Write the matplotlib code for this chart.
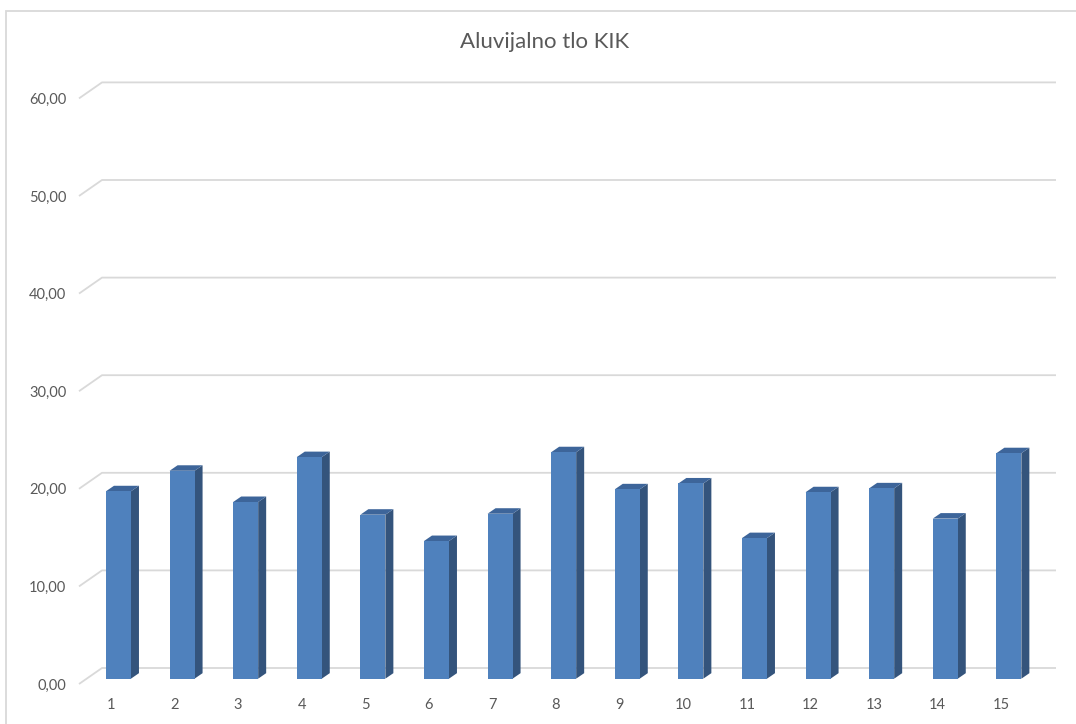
"""Excel-style 3D column chart: Aluvijalno tlo KIK."""

import matplotlib.pyplot as plt
from matplotlib.patches import Polygon, Rectangle

categories = list(range(1, 16))
values = [19.2, 21.3, 18.1, 22.7, 16.8, 14.1, 16.9, 23.2, 19.4, 20.0, 14.4, 19.1, 19.5, 16.4, 23.1]
y_ticks = [0, 10, 20, 30, 40, 50, 60]
title = "Aluvijalno tlo KIK"

FRONT = "#4f81bd"
SIDE = "#34547c"
TOP = "#3d659a"
GRID = "#d9d9d9"
TEXT = "#595959"

plt.rcParams["font.family"] = ["Lato", "DejaVu Sans"]

W, H = 1076, 724
fig = plt.figure(figsize=(W / 100, H / 100), dpi=100)

# front plane in pixels: x 79..1033, y 684 (0) .. 98.4 (60)
ax = fig.add_axes([79 / W, 40 / H, (1033 - 79) / W, 585.6 / H])
ax.set_xlim(0.5, 15.5)
ax.set_ylim(0, 60)
for s in ax.spines.values():
    s.set_visible(False)

# oblique depth offsets (data units) for the full floor depth
px_x = (1033 - 79) / 15.0
px_y = 585.6 / 60.0
DX = 23 / px_x
DY = 16 / px_y

# back wall gridlines with a short diagonal on the left wall
for t in y_ticks:
    ax.plot([0.5, 0.5 + DX, 15.5 + DX], [t, t + DY, t + DY], color=GRID, lw=1.3,
            clip_on=False, zorder=1, solid_capstyle="butt")

# columns sit in the middle third of the depth
bw = 25 / px_x
bdx, bdy = DX / 3, DY / 3
sdx, sdy = 8 / px_x, 5.5 / px_y
for c, v in zip(categories, values):
    x0 = c - bw / 2 + bdx
    y0 = bdy
    ax.add_patch(Polygon([(x0 + bw, y0), (x0 + bw + sdx, y0 + sdy), (x0 + bw + sdx, y0 + v + sdy),
                          (x0 + bw, y0 + v)], closed=True, fc=SIDE, ec="none", zorder=3, clip_on=False))
    ax.add_patch(Polygon([(x0, y0 + v), (x0 + bw, y0 + v), (x0 + bw + sdx, y0 + v + sdy),
                          (x0 + sdx, y0 + v + sdy)], closed=True, fc=TOP, ec="none", zorder=3, clip_on=False))
ax.bar([c + bdx for c in categories], values, width=bw, bottom=bdy, color=FRONT, zorder=4)

ax.set_yticks(y_ticks)
ax.set_yticklabels([f"{t:.2f}".replace(".", ",") for t in y_ticks])
ax.set_xticks(categories)
ax.set_xticklabels([str(c) for c in categories])
ax.tick_params(axis="y", length=0, pad=9, labelsize=10.5, labelcolor=TEXT)
ax.tick_params(axis="x", length=0, pad=10, labelsize=10.5, labelcolor=TEXT)

fig.text(545 / W, 1 - 42 / H, title, ha="center", va="center", fontsize=16, color=TEXT)

# chart area border
fig.patches.append(Rectangle((6 / W, -0.05), 1.2, 1 - 11 / H + 0.05, transform=fig.transFigure,
                             fill=False, ec=GRID, lw=1.3))

fig.savefig("out.png", dpi=100)
